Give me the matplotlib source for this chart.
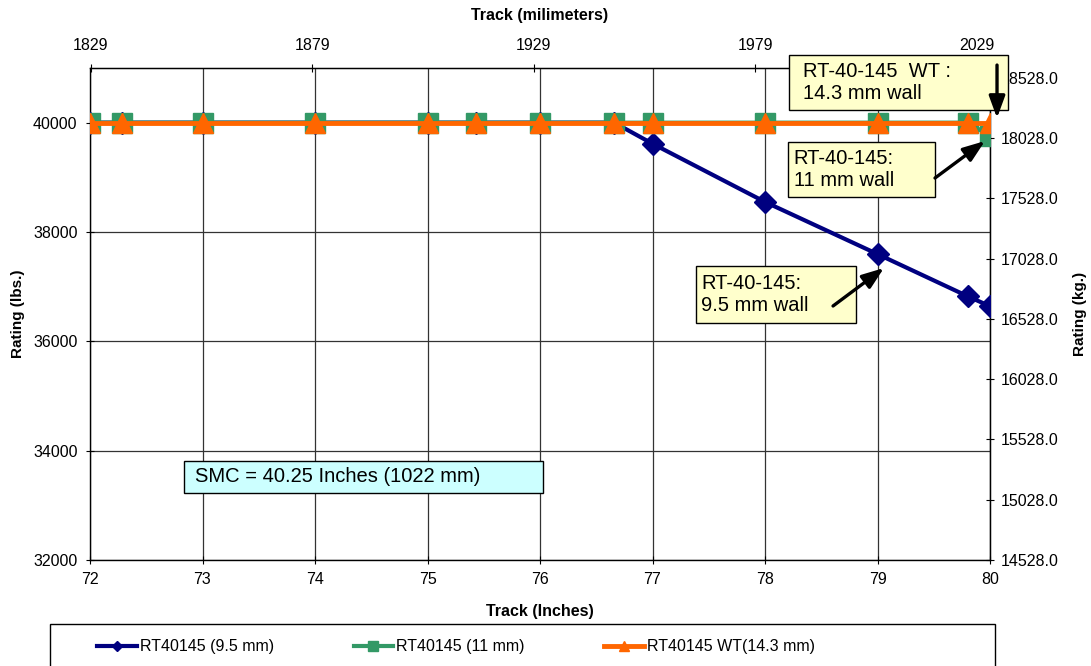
import matplotlib
matplotlib.use("Agg")
import matplotlib.pyplot as plt
from matplotlib.patches import Rectangle

plt.rcParams["font.family"] = ["Liberation Sans", "DejaVu Sans"]

# Track widths (inches) and load ratings (lbs.)
track_in = [72.0, 72.28, 73.0, 74.0, 75.0, 75.43, 76.0, 76.66, 77.0, 78.0, 79.0, 79.8, 80.0]
rating_95 = [40000, 40000, 40000, 40000, 40000, 40000, 40000, 40000, 39615, 38550, 37596, 36826, 36642]
rating_11 = [40000, 40000, 40000, 40000, 40000, 40000, 40000, 40000, 40000, 40000, 40000, 40000, 39760]
rating_wt = [40000, 40000, 40000, 40000, 40000, 40000, 40000, 40000, 40000, 40000, 40000, 40000, 40000]

series_labels = ["RT40145 (9.5 mm)", "RT40145 (11 mm)", "RT40145 WT(14.3 mm)"]

x_ticks = [72, 73, 74, 75, 76, 77, 78, 79, 80]
y_ticks = [32000, 34000, 36000, 38000, 40000]
mm_ticks = [1829, 1879, 1929, 1979, 2029]
kg_ticks = [14528.0, 15028.0, 15528.0, 16028.0, 16528.0, 17028.0, 17528.0, 18028.0, 18528.0]

KG_AT_MIN = 14528.0
LBS_MIN = 32000.0
LB_TO_KG = 0.45359

fig = plt.figure(figsize=(10.91, 6.66), dpi=100)
ax = fig.add_axes([90 / 1091, 1 - 560 / 666, 900 / 1091, 492 / 666])

ax.set_xlim(72, 80)
ax.set_ylim(32000, 41000)
ax.set_xticks(x_ticks)
ax.set_yticks(y_ticks)
ax.tick_params(direction="inout", length=6, width=0.8, labelsize=11.5, pad=6)
ax.grid(True, color="#333333", linewidth=0.9)
ax.set_axisbelow(True)
for s in ax.spines.values():
    s.set_linewidth(1.0)

navy = "#000080"
green = "#339966"
orange = "#FF6600"

ax.plot(track_in, rating_95, color=navy, lw=3, marker="D", ms=11, zorder=3,
        label=series_labels[0])
ax.plot(track_in, rating_11, color=green, lw=3, marker="s", ms=15, zorder=4,
        label=series_labels[1])
ax.plot(track_in, rating_wt, color=orange, lw=3.5, marker="^", ms=15, zorder=5,
        label=series_labels[2])

ax.set_xlabel("Track (Inches)", fontsize=11.5, fontweight="bold", labelpad=12)
ax.set_ylabel("Rating (lbs.)", fontsize=11, fontweight="bold", labelpad=6)

# Secondary scales: millimetres on top, kilograms on the right
top = ax.secondary_xaxis("top", functions=(lambda v: v * 25.4, lambda v: v / 25.4))
top.set_xticks(mm_ticks)
top.tick_params(direction="inout", length=6, width=0.8, labelsize=11.5, pad=8)
top.set_xlabel("Track (milimeters)", fontsize=11.5, fontweight="bold", labelpad=13)

right = ax.secondary_yaxis(
    "right",
    functions=(lambda v: KG_AT_MIN + (v - LBS_MIN) * LB_TO_KG,
               lambda v: LBS_MIN + (v - KG_AT_MIN) / LB_TO_KG),
)
right.set_yticks(kg_ticks)
right.set_yticklabels([f"{v:.1f}" for v in kg_ticks])
right.tick_params(direction="inout", length=6, width=0.8, labelsize=11.5, pad=5)
right.set_ylabel("Rating (kg.)", fontsize=11, fontweight="bold", labelpad=10)


def note_box(x0, x1, y0, y1, text, tx, face):
    ax.add_patch(Rectangle((x0, y0), x1 - x0, y1 - y0, transform=ax.transAxes,
                           facecolor=face, edgecolor="black", lw=1.0,
                           clip_on=False, zorder=8))
    ax.text(tx, (y0 + y1) / 2, text, transform=ax.transAxes, ha="left", va="center",
            fontsize=14.5, linespacing=1.2, zorder=9, clip_on=False)


def note_arrow(start, end):
    ax.annotate("", xy=end, xytext=start, xycoords="axes fraction",
                textcoords="axes fraction",
                arrowprops=dict(arrowstyle="-|>,head_length=0.6,head_width=0.22",
                                lw=2.4, color="black", mutation_scale=22,
                                shrinkA=0, shrinkB=0),
                zorder=10, annotation_clip=False)


pale_yellow = "#FFFFCC"
note_box(0.7767, 1.020, 0.9146, 1.0264, "RT-40-145  WT :\n14.3 mm wall", 0.7922, pale_yellow)
note_box(0.7756, 0.9389, 0.7378, 0.8496, "RT-40-145:\n11 mm wall", 0.782, pale_yellow)
note_box(0.6733, 0.8511, 0.4817, 0.5976, "RT-40-145:\n9.5 mm wall", 0.679, pale_yellow)
note_box(0.1044, 0.5033, 0.1362, 0.2012, "SMC = 40.25 Inches (1022 mm)", 0.1167, "#CCFFFF")

note_arrow((1.0078, 1.006), (1.0078, 0.8984))
note_arrow((0.9389, 0.7764), (0.9944, 0.8516))
note_arrow((0.8256, 0.5163), (0.8822, 0.5935))

# Legend panel below the plot
fig.add_artist(Rectangle((50 / 1091, -0.02), 945 / 1091, 0.02 + 42 / 666,
                         transform=fig.transFigure, facecolor="white",
                         edgecolor="black", lw=1.0))
handles, labels = ax.get_legend_handles_labels()
fig.legend(handles, labels, loc="center left", ncol=3, frameon=False,
           bbox_to_anchor=(83 / 1091, 1 - 647 / 666), markerscale=0.5,
           handlelength=2.45, handletextpad=0.2, columnspacing=5.0,
           prop={"size": 11.5})

fig.savefig("out.png", dpi=100)
